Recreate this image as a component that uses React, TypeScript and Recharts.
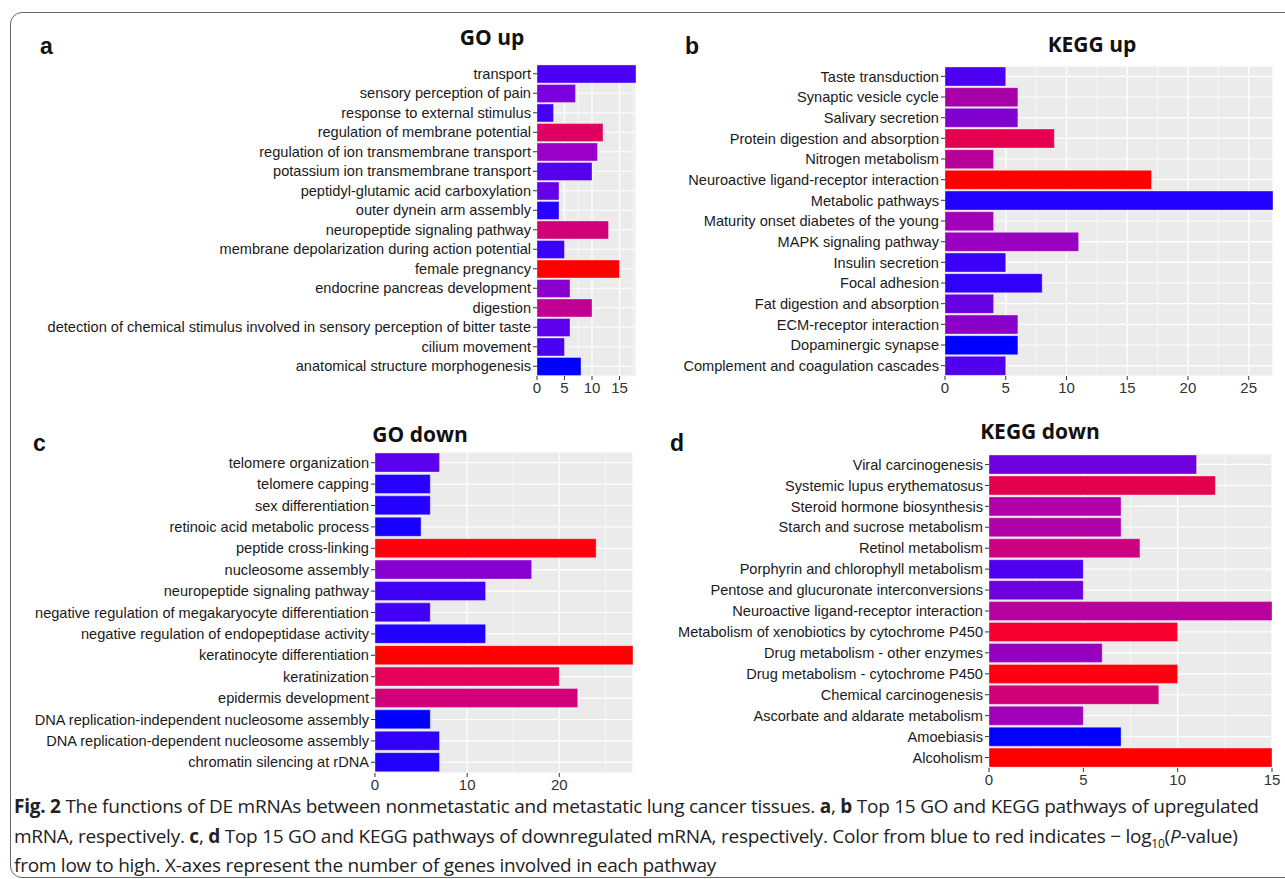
import { BarChart, Bar, XAxis, YAxis, CartesianGrid, Cell } from 'recharts';

// GO up (top to bottom as drawn)
const goUpTerms = [
  'transport',
  'sensory perception of pain',
  'response to external stimulus',
  'regulation of membrane potential',
  'regulation of ion transmembrane transport',
  'potassium ion transmembrane transport',
  'peptidyl-glutamic acid carboxylation',
  'outer dynein arm assembly',
  'neuropeptide signaling pathway',
  'membrane depolarization during action potential',
  'female pregnancy',
  'endocrine pancreas development',
  'digestion',
  'detection of chemical stimulus involved in sensory perception of bitter taste',
  'cilium movement',
  'anatomical structure morphogenesis',
];
const goUpCounts = [18, 7, 3, 12, 11, 10, 4, 4, 13, 5, 15, 6, 10, 6, 5, 8];
const goUpColors = [
  '#4B00F5', '#7A00DD', '#4400F8', '#E0005F', '#9A00C5', '#5500EE', '#6600E6', '#2800FF',
  '#D1007A', '#3A00F8', '#FF0000', '#8C00CF', '#C00090', '#5D00EC', '#4A00F0', '#0000FF',
];

// KEGG up
const keggUpTerms = [
  'Taste transduction',
  'Synaptic vesicle cycle',
  'Salivary secretion',
  'Protein digestion and absorption',
  'Nitrogen metabolism',
  'Neuroactive ligand-receptor interaction',
  'Metabolic pathways',
  'Maturity onset diabetes of the young',
  'MAPK signaling pathway',
  'Insulin secretion',
  'Focal adhesion',
  'Fat digestion and absorption',
  'ECM-receptor interaction',
  'Dopaminergic synapse',
  'Complement and coagulation cascades',
];
const keggUpCounts = [5, 6, 6, 9, 4, 17, 27, 4, 11, 5, 8, 4, 6, 6, 5];
const keggUpColors = [
  '#4C00F2', '#A800A8', '#8000D0', '#E4004E', '#B80098', '#FF0000', '#2200FF', '#A000B8',
  '#9A00C0', '#3A00F8', '#3000FA', '#6800E4', '#8A00C8', '#0000FF', '#5000EE',
];

// GO down
const goDownTerms = [
  'telomere organization',
  'telomere capping',
  'sex differentiation',
  'retinoic acid metabolic process',
  'peptide cross-linking',
  'nucleosome assembly',
  'neuropeptide signaling pathway',
  'negative regulation of megakaryocyte differentiation',
  'negative regulation of endopeptidase activity',
  'keratinocyte differentiation',
  'keratinization',
  'epidermis development',
  'DNA replication-independent nucleosome assembly',
  'DNA replication-dependent nucleosome assembly',
  'chromatin silencing at rDNA',
];
const goDownCounts = [7, 6, 6, 5, 24, 17, 12, 6, 12, 28, 20, 22, 6, 7, 7];
const goDownColors = [
  '#5A00EE', '#2800FF', '#2400FF', '#1800FF', '#FF0010', '#8800D0', '#4000F5', '#4200F5',
  '#2200FF', '#FF0000', '#E6005A', '#D20078', '#0000FF', '#3000FA', '#2000FF',
];

// KEGG down
const keggDownTerms = [
  'Viral carcinogenesis',
  'Systemic lupus erythematosus',
  'Steroid hormone biosynthesis',
  'Starch and sucrose metabolism',
  'Retinol metabolism',
  'Porphyrin and chlorophyll metabolism',
  'Pentose and glucuronate interconversions',
  'Neuroactive ligand-receptor interaction',
  'Metabolism of xenobiotics by cytochrome P450',
  'Drug metabolism - other enzymes',
  'Drug metabolism - cytochrome P450',
  'Chemical carcinogenesis',
  'Ascorbate and aldarate metabolism',
  'Amoebiasis',
  'Alcoholism',
];
const keggDownCounts = [11, 12, 7, 7, 8, 5, 5, 15, 10, 6, 10, 9, 5, 7, 15];
const keggDownColors = [
  '#6E00E0', '#E4004E', '#B000A8', '#B000A8', '#CC0080', '#5000EE', '#6E00E0', '#B8009C',
  '#F80030', '#9800C0', '#FF0010', '#D20076', '#A000B8', '#0000FF', '#FF0000',
];

const goUpTicks = [0, 5, 10, 15];
const goUpMinor = [2.5, 7.5, 12.5, 17.5];
const keggUpTicks = [0, 5, 10, 15, 20, 25];
const keggUpMinor = [2.5, 7.5, 12.5, 17.5, 22.5];
const goDownTicks = [0, 10, 20];
const goDownMinor = [5, 15, 25];
const keggDownTicks = [0, 5, 10, 15];
const keggDownMinor = [2.5, 7.5, 12.5];

const labelFont = '"Liberation Sans", Arial, sans-serif';

interface PanelProps {
  terms: string[];
  counts: number[];
  colors: string[];
  ticks: number[];
  minor: number[];
  max: number;
  left: number;
  top: number;
  width: number;
  height: number;
  yWidth: number;
}

function Panel({ terms, counts, colors, ticks, minor, max, left, top, width, height, yWidth }: PanelProps) {
  const data = terms.map((t, i) => ({ term: t, count: counts[i] }));
  return (
    <div style={{ position: 'absolute', left, top }}>
      <BarChart
        width={width}
        height={height}
        data={data}
        layout="vertical"
        margin={{ top: 0, right: 12, bottom: 0, left: 0 }}
        barCategoryGap="5%"
      >
        <CartesianGrid
          fill="#EBEBEB"
          stroke="#FFFFFF"
          strokeWidth={1.2}
          horizontal
          vertical
        />
        <CartesianGrid
          stroke="#FFFFFF"
          strokeWidth={0.6}
          horizontal={false}
          verticalValues={minor}
        />
        <XAxis
          type="number"
          domain={[0, max]}
          ticks={ticks}
          allowDataOverflow
          axisLine={false}
          tickLine={{ stroke: '#333333' }}
          tickSize={4}
          tick={{ fill: '#333333', fontSize: 15, fontFamily: labelFont }}
          height={22}
        />
        <YAxis
          type="category"
          dataKey="term"
          width={yWidth}
          axisLine={false}
          tickLine={{ stroke: '#333333' }}
          tickSize={4}
          tickMargin={2}
          interval={0}
          tick={{ fill: '#1A1A1A', fontSize: 14.6, fontFamily: labelFont }}
        />
        <Bar dataKey="count" isAnimationActive={false} stroke="#FFFFFF" strokeOpacity={0.35} strokeWidth={1}>
          {data.map((d, i) => (
            <Cell key={d.term} fill={colors[i]} />
          ))}
        </Bar>
      </BarChart>
    </div>
  );
}

const letterStyle: React.CSSProperties = {
  position: 'absolute',
  fontFamily: labelFont,
  fontWeight: 700,
  fontSize: 23,
  color: '#111',
  lineHeight: 1,
};

const titleStyle: React.CSSProperties = {
  position: 'absolute',
  fontFamily: '"Open Sans", "Noto Sans", sans-serif',
  fontWeight: 700,
  fontSize: 21,
  color: '#111',
  lineHeight: 1,
  transform: 'translateX(-50%)',
  whiteSpace: 'nowrap',
};

const captionStyle: React.CSSProperties = {
  position: 'absolute',
  left: 14,
  fontFamily: '"Open Sans", "Noto Sans", sans-serif',
  fontSize: 19,
  color: '#222',
  whiteSpace: 'nowrap',
  lineHeight: 1,
  letterSpacing: -0.25,
};

export default function App() {
  return (
    <div
      style={{
        position: 'absolute',
        left: 0,
        top: 0,
        width: 1285,
        height: 879,
        background: '#FFFFFF',
        overflow: 'hidden',
      }}
    >
      <div
        style={{
          position: 'absolute',
          left: 10,
          top: 12,
          width: 1300,
          height: 864,
          border: '1.5px solid #666',
          borderRadius: 12,
        }}
      />

      <div style={{ ...letterStyle, left: 40, top: 35 }}>a</div>
      <div style={{ ...letterStyle, left: 685, top: 35 }}>b</div>
      <div style={{ ...letterStyle, left: 33, top: 432 }}>c</div>
      <div style={{ ...letterStyle, left: 670, top: 432 }}>d</div>

      <div style={{ ...titleStyle, left: 492, top: 27 }}>GO up</div>
      <div style={{ ...titleStyle, left: 1092, top: 34 }}>KEGG up</div>
      <div style={{ ...titleStyle, left: 420, top: 424 }}>GO down</div>
      <div style={{ ...titleStyle, left: 1040, top: 421 }}>KEGG down</div>

      <Panel terms={goUpTerms} counts={goUpCounts} colors={goUpColors} ticks={goUpTicks} minor={goUpMinor}
        max={18} left={20} top={64} width={628} height={334} yWidth={517} />
      <Panel terms={keggUpTerms} counts={keggUpCounts} colors={keggUpColors} ticks={keggUpTicks} minor={keggUpMinor}
        max={27} left={650} top={66} width={635} height={332} yWidth={295} />
      <Panel terms={goDownTerms} counts={goDownCounts} colors={goDownColors} ticks={goDownTicks} minor={goDownMinor}
        max={28} left={20} top={452} width={625} height={343} yWidth={355} />
      <Panel terms={keggDownTerms} counts={keggDownCounts} colors={keggDownColors} ticks={keggDownTicks} minor={keggDownMinor}
        max={15} left={650} top={454} width={634} height={336} yWidth={339} />

      <div style={{ ...captionStyle, top: 797 }}>
        <b>Fig. 2</b>{'  '}The functions of DE mRNAs between nonmetastatic and metastatic lung cancer tissues. <b>a</b>, <b>b</b> Top 15 GO and KEGG pathways of upregulated
      </div>
      <div style={{ ...captionStyle, top: 827 }}>
        mRNA, respectively. <b>c</b>, <b>d</b> Top 15 GO and KEGG pathways of downregulated mRNA, respectively. Color from blue to red indicates − log<sub style={{ fontSize: 12 }}>10</sub>(<i>P</i>-value)
      </div>
      <div style={{ ...captionStyle, top: 856 }}>
        from low to high. X-axes represent the number of genes involved in each pathway
      </div>
    </div>
  );
}
